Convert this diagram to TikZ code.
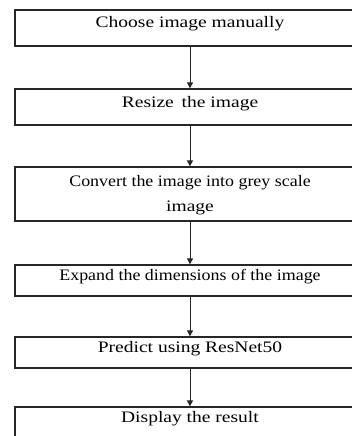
\documentclass[tikz,border=0pt]{standalone}
\usepackage{fontspec}
\setmainfont{Liberation Serif}[FakeStretch=1.22]
\newfontfamily\tightserif{Liberation Serif}[FakeStretch=1.12]
\usetikzlibrary{positioning,arrows.meta}
\tikzset{stepbox/.style={draw=black!85, line width=1.3pt, minimum width=350pt, align=center,
    font=\fontsize{16}{25}\selectfont, text height=8pt, text depth=8pt},
  flow/.style={draw=black!85, line width=0.9pt, -{Triangle[width=6pt,length=6pt]}}}
\begin{document}
\begin{tikzpicture}[x=1pt,y=-1pt]
\useasboundingbox (0,0) rectangle (352,436);
\clip (0,0) rectangle (352,436);
\node[stepbox, minimum height=36pt] (choose) at (190,28) {Choose image manually};
\node[stepbox, minimum height=36pt] (resize) at (190,107) {Resize\hspace{3pt} the image};
\node[stepbox, minimum height=54pt, text height=40pt, text depth=6pt] (grey) at (190,194) {\tightserif Convert the image into grey scale\\image};
\node[stepbox, minimum height=31pt] (expand) at (190,280.5) {\tightserif Expand the dimensions of the image};
\node[stepbox, minimum height=31pt] (predict) at (190,352.5) {Predict using ResNet50};
\node[stepbox, minimum height=31pt] (display) at (190,422.5) {Display the result};
\draw[flow] (choose) -- (resize);
\draw[flow] (resize) -- (grey);
\draw[flow] (grey) -- (expand);
\draw[flow] (expand) -- (predict);
\draw[flow] (predict) -- (display);
\end{tikzpicture}
\end{document}
